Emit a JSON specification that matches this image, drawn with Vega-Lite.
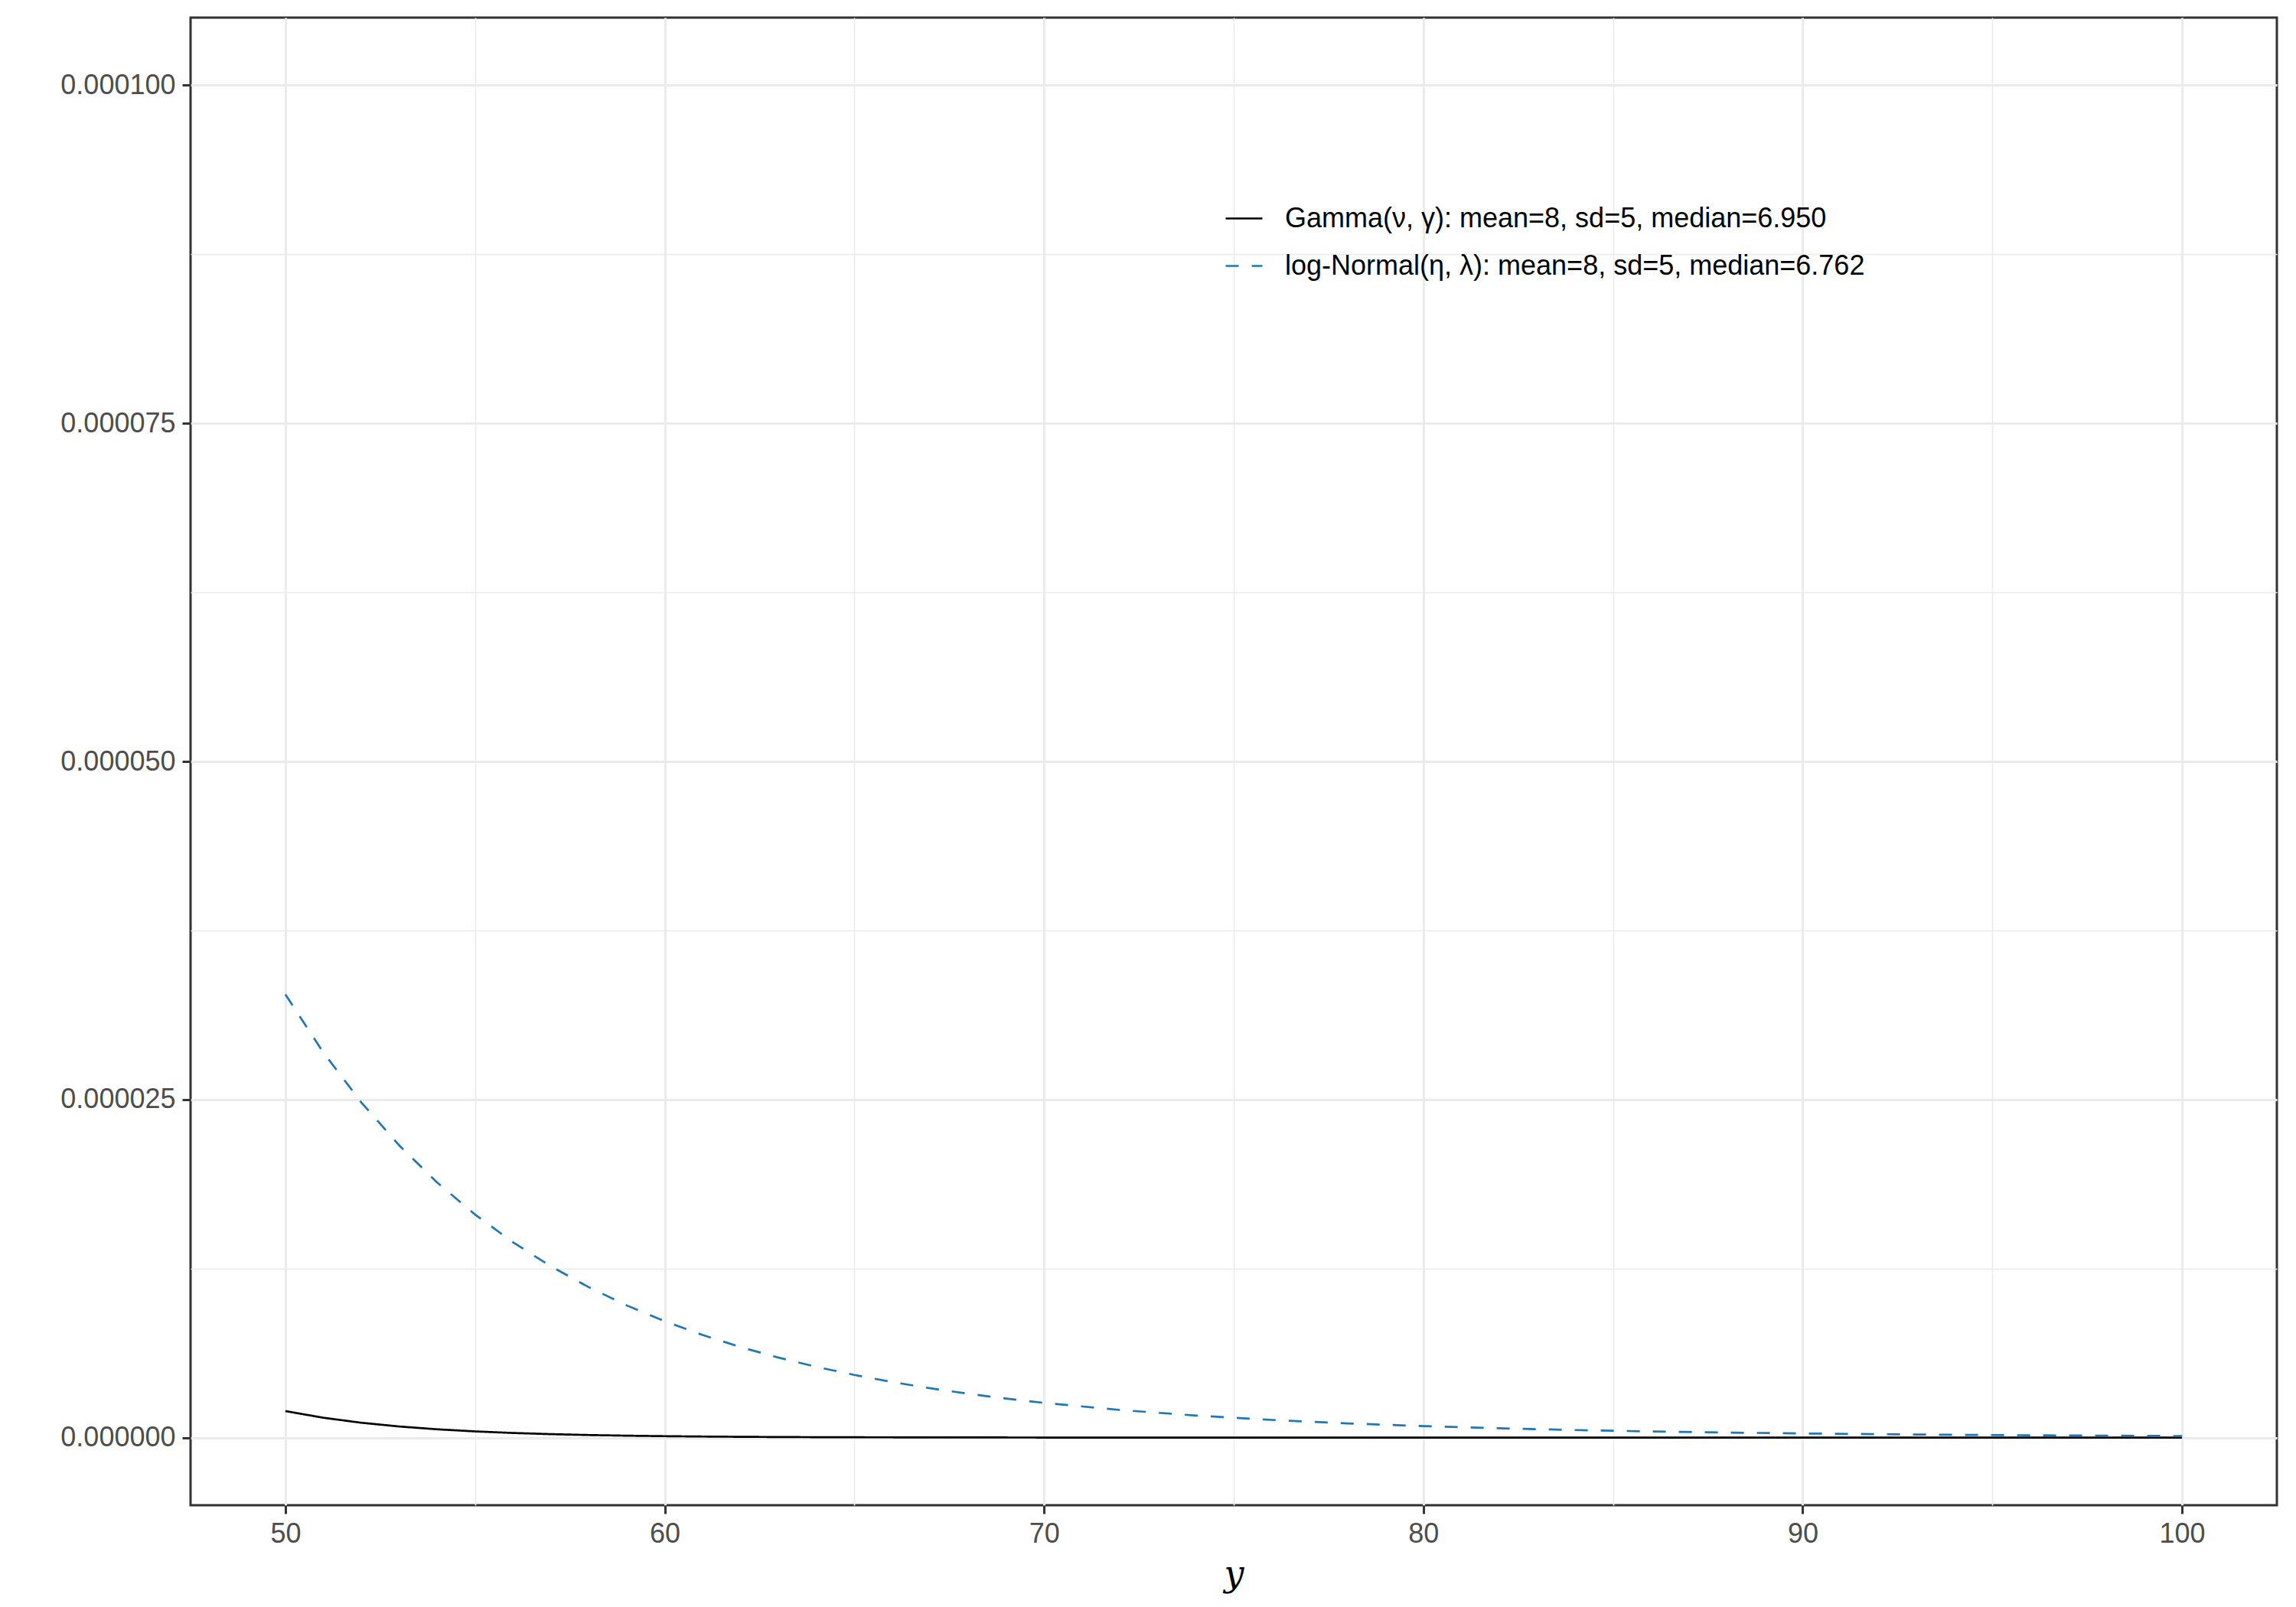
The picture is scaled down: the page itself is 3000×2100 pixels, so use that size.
{
  "$schema": "https://vega.github.io/schema/vega-lite/v6.json",
  "width": 2726,
  "height": 1944,
  "autosize": {"type": "none"},
  "padding": {"left": 249, "top": 23, "right": 25, "bottom": 133},
  "background": "white",
  "config": {
    "font": "Liberation Sans",
    "view": {"stroke": "#333333", "strokeWidth": 3}
  },
  "datasets": {
    "curves": [
      {"dist": "Gamma(ν, γ): mean=8, sd=5, median=6.950", "x": 50, "d": 1.961e-6},
      {"dist": "Gamma(ν, γ): mean=8, sd=5, median=6.950", "x": 51, "d": 1.4687e-6},
      {"dist": "Gamma(ν, γ): mean=8, sd=5, median=6.950", "x": 52, "d": 1.0993e-6},
      {"dist": "Gamma(ν, γ): mean=8, sd=5, median=6.950", "x": 53, "d": 8.223e-7},
      {"dist": "Gamma(ν, γ): mean=8, sd=5, median=6.950", "x": 54, "d": 6.148e-7},
      {"dist": "Gamma(ν, γ): mean=8, sd=5, median=6.950", "x": 55, "d": 4.594e-7},
      {"dist": "Gamma(ν, γ): mean=8, sd=5, median=6.950", "x": 56, "d": 3.431e-7},
      {"dist": "Gamma(ν, γ): mean=8, sd=5, median=6.950", "x": 57, "d": 2.561e-7},
      {"dist": "Gamma(ν, γ): mean=8, sd=5, median=6.950", "x": 58, "d": 1.911e-7},
      {"dist": "Gamma(ν, γ): mean=8, sd=5, median=6.950", "x": 59, "d": 1.425e-7},
      {"dist": "Gamma(ν, γ): mean=8, sd=5, median=6.950", "x": 60, "d": 1.0624e-7},
      {"dist": "Gamma(ν, γ): mean=8, sd=5, median=6.950", "x": 61, "d": 7.916e-8},
      {"dist": "Gamma(ν, γ): mean=8, sd=5, median=6.950", "x": 62, "d": 5.896e-8},
      {"dist": "Gamma(ν, γ): mean=8, sd=5, median=6.950", "x": 63, "d": 4.389e-8},
      {"dist": "Gamma(ν, γ): mean=8, sd=5, median=6.950", "x": 64, "d": 3.267e-8},
      {"dist": "Gamma(ν, γ): mean=8, sd=5, median=6.950", "x": 65, "d": 2.43e-8},
      {"dist": "Gamma(ν, γ): mean=8, sd=5, median=6.950", "x": 70, "d": 5.508e-9},
      {"dist": "Gamma(ν, γ): mean=8, sd=5, median=6.950", "x": 75, "d": 1.238e-9},
      {"dist": "Gamma(ν, γ): mean=8, sd=5, median=6.950", "x": 80, "d": 2.765e-10},
      {"dist": "Gamma(ν, γ): mean=8, sd=5, median=6.950", "x": 85, "d": 6.136e-11},
      {"dist": "Gamma(ν, γ): mean=8, sd=5, median=6.950", "x": 90, "d": 1.354e-11},
      {"dist": "Gamma(ν, γ): mean=8, sd=5, median=6.950", "x": 95, "d": 2.975e-12},
      {"dist": "Gamma(ν, γ): mean=8, sd=5, median=6.950", "x": 100, "d": 6.507e-13},
      {"dist": "log-Normal(η, λ): mean=8, sd=5, median=6.762", "x": 50, "d": 3.2769e-5},
      {"dist": "log-Normal(η, λ): mean=8, sd=5, median=6.762", "x": 51, "d": 2.8479e-5},
      {"dist": "log-Normal(η, λ): mean=8, sd=5, median=6.762", "x": 52, "d": 2.4789e-5},
      {"dist": "log-Normal(η, λ): mean=8, sd=5, median=6.762", "x": 53, "d": 2.1609e-5},
      {"dist": "log-Normal(η, λ): mean=8, sd=5, median=6.762", "x": 54, "d": 1.8866e-5},
      {"dist": "log-Normal(η, λ): mean=8, sd=5, median=6.762", "x": 55, "d": 1.6495e-5},
      {"dist": "log-Normal(η, λ): mean=8, sd=5, median=6.762", "x": 56, "d": 1.4443e-5},
      {"dist": "log-Normal(η, λ): mean=8, sd=5, median=6.762", "x": 57, "d": 1.2664e-5},
      {"dist": "log-Normal(η, λ): mean=8, sd=5, median=6.762", "x": 58, "d": 1.1119e-5},
      {"dist": "log-Normal(η, λ): mean=8, sd=5, median=6.762", "x": 59, "d": 9.775e-6},
      {"dist": "log-Normal(η, λ): mean=8, sd=5, median=6.762", "x": 60, "d": 8.605e-6},
      {"dist": "log-Normal(η, λ): mean=8, sd=5, median=6.762", "x": 61, "d": 7.585e-6},
      {"dist": "log-Normal(η, λ): mean=8, sd=5, median=6.762", "x": 62, "d": 6.694e-6},
      {"dist": "log-Normal(η, λ): mean=8, sd=5, median=6.762", "x": 63, "d": 5.915e-6},
      {"dist": "log-Normal(η, λ): mean=8, sd=5, median=6.762", "x": 64, "d": 5.232e-6},
      {"dist": "log-Normal(η, λ): mean=8, sd=5, median=6.762", "x": 65, "d": 4.634e-6},
      {"dist": "log-Normal(η, λ): mean=8, sd=5, median=6.762", "x": 66, "d": 4.109e-6},
      {"dist": "log-Normal(η, λ): mean=8, sd=5, median=6.762", "x": 67, "d": 3.648e-6},
      {"dist": "log-Normal(η, λ): mean=8, sd=5, median=6.762", "x": 68, "d": 3.242e-6},
      {"dist": "log-Normal(η, λ): mean=8, sd=5, median=6.762", "x": 69, "d": 2.884e-6},
      {"dist": "log-Normal(η, λ): mean=8, sd=5, median=6.762", "x": 70, "d": 2.568e-6},
      {"dist": "log-Normal(η, λ): mean=8, sd=5, median=6.762", "x": 72, "d": 2.043e-6},
      {"dist": "log-Normal(η, λ): mean=8, sd=5, median=6.762", "x": 74, "d": 1.632e-6},
      {"dist": "log-Normal(η, λ): mean=8, sd=5, median=6.762", "x": 76, "d": 1.308e-6},
      {"dist": "log-Normal(η, λ): mean=8, sd=5, median=6.762", "x": 78, "d": 1.0526e-6},
      {"dist": "log-Normal(η, λ): mean=8, sd=5, median=6.762", "x": 80, "d": 8.5e-7},
      {"dist": "log-Normal(η, λ): mean=8, sd=5, median=6.762", "x": 82, "d": 6.887e-7},
      {"dist": "log-Normal(η, λ): mean=8, sd=5, median=6.762", "x": 84, "d": 5.599e-7},
      {"dist": "log-Normal(η, λ): mean=8, sd=5, median=6.762", "x": 86, "d": 4.566e-7},
      {"dist": "log-Normal(η, λ): mean=8, sd=5, median=6.762", "x": 88, "d": 3.735e-7},
      {"dist": "log-Normal(η, λ): mean=8, sd=5, median=6.762", "x": 90, "d": 3.065e-7},
      {"dist": "log-Normal(η, λ): mean=8, sd=5, median=6.762", "x": 92, "d": 2.522e-7},
      {"dist": "log-Normal(η, λ): mean=8, sd=5, median=6.762", "x": 94, "d": 2.081e-7},
      {"dist": "log-Normal(η, λ): mean=8, sd=5, median=6.762", "x": 96, "d": 1.721e-7},
      {"dist": "log-Normal(η, λ): mean=8, sd=5, median=6.762", "x": 98, "d": 1.428e-7},
      {"dist": "log-Normal(η, λ): mean=8, sd=5, median=6.762", "x": 100, "d": 1.187e-7}
    ]
  },
  "data": {"name": "curves"},
  "layer": [
    {
      "mark": {"type": "line", "opacity": 0},
      "encoding": {
        "x": {
          "field": "x", "type": "quantitative",
          "scale": {"domain": [47.5, 102.5], "nice": false, "zero": false},
          "axis": {"orient": "top", "values": [55, 65, 75, 85, 95], "grid": true, "gridColor": "#EBEBEB", "gridWidth": 1.5, "labels": false, "ticks": false, "domain": false, "title": null}
        },
        "y": {
          "field": "d", "type": "quantitative",
          "scale": {"domain": [-0.000005, 0.000105], "nice": false, "zero": false},
          "axis": {"orient": "right", "values": [0.0000125, 0.0000375, 0.0000625, 0.0000875], "grid": true, "gridColor": "#EBEBEB", "gridWidth": 1.5, "labels": false, "ticks": false, "domain": false, "title": null}
        }
      }
    },
    {
      "mark": {"type": "line", "strokeWidth": 2.7, "clip": true},
      "encoding": {
        "x": {
          "field": "x", "type": "quantitative",
          "scale": {"domain": [47.5, 102.5], "nice": false, "zero": false},
          "axis": {
            "orient": "bottom",
            "values": [50, 60, 70, 80, 90, 100], "format": "d",
            "grid": true, "gridColor": "#EBEBEB", "gridWidth": 3,
            "domain": false, "tickColor": "#333333", "tickWidth": 3, "tickSize": 11,
            "labelFontSize": 36, "labelColor": "#4D4D4D", "labelPadding": 9,
            "title": "y", "titleFont": "DejaVu Serif", "titleFontStyle": "italic", "titleFontWeight": "normal",
            "titleFontSize": 46, "titleColor": "#000000", "titlePadding": 13
          }
        },
        "y": {
          "field": "d", "type": "quantitative",
          "scale": {"domain": [-0.000005, 0.000105], "nice": false, "zero": false},
          "axis": {
            "orient": "left",
            "values": [0, 0.000025, 0.00005, 0.000075, 0.0001], "format": ".6f",
            "grid": true, "gridColor": "#EBEBEB", "gridWidth": 3,
            "domain": false, "tickColor": "#333333", "tickWidth": 3, "tickSize": 11,
            "labelFontSize": 36, "labelColor": "#4D4D4D", "labelPadding": 9,
            "title": null
          }
        },
        "color": {
          "field": "dist", "type": "nominal",
          "scale": {"domain": ["Gamma(ν, γ): mean=8, sd=5, median=6.950", "log-Normal(η, λ): mean=8, sd=5, median=6.762"], "range": ["#000000", "#1F78B4"]},
          "legend": {"orient": "none", "legendX": 1351, "legendY": 237, "title": null, "labelFontSize": 36, "labelColor": "#000000", "symbolType": "stroke", "symbolSize": 2304, "symbolStrokeWidth": 2.7, "labelOffset": 28, "rowPadding": 18, "padding": 0, "labelLimit": 0}
        },
        "strokeDash": {
          "field": "dist", "type": "nominal",
          "scale": {"domain": ["Gamma(ν, γ): mean=8, sd=5, median=6.950", "log-Normal(η, λ): mean=8, sd=5, median=6.762"], "range": [[1, 0], [17, 17]]},
          "legend": {"orient": "none", "legendX": 1351, "legendY": 237, "title": null, "labelFontSize": 36, "labelColor": "#000000", "symbolType": "stroke", "symbolSize": 2304, "symbolStrokeWidth": 2.7, "labelOffset": 28, "rowPadding": 18, "padding": 0, "labelLimit": 0}
        }
      }
    }
  ],
  "resolve": {"axis": {"x": "independent", "y": "independent"}}
}
